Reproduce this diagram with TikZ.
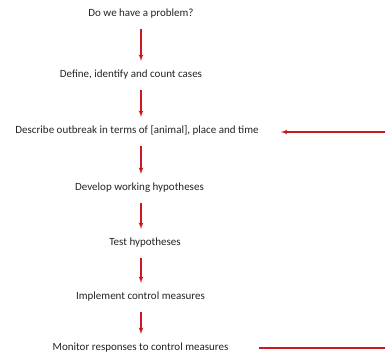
\documentclass[tikz,border=0pt]{standalone}
\usepackage{fontspec}
\setmainfont{Carlito}
\usepackage{tikz}
\usetikzlibrary{arrows}
\definecolor{flowred}{RGB}{204,24,32}
\definecolor{steptext}{RGB}{35,35,35}
\tikzstyle{stage} = [inner sep=0pt, text=steptext, font=\fontsize{11}{13}\selectfont,
    text height=7pt, text depth=2.5pt]
\tikzstyle{arrow} = [draw=flowred, line width=1.2pt, -latex', shorten <=10pt, shorten >=9pt]
\tikzstyle{loop} = [draw=flowred, line width=1.2pt]

\begin{document}
\begin{tikzpicture}[x=1pt,y=-1pt]
    \useasboundingbox (0,0) rectangle (385,358);
    \coordinate (axis) at (141,0);
    \node[stage] (problem) at (141,14) {Do we have a problem?};
    \node[stage] (cases) at (131,75) {Define, identify and count cases};
    \node[stage] (describe) at (137,131) {Describe outbreak in terms of [animal], place and time};
    \node[stage] (develop) at (139.5,188) {Develop working hypotheses};
    \node[stage] (test) at (145,243) {Test hypotheses};
    \node[stage] (implement) at (140.5,297) {Implement control measures};
    \node[stage] (monitor) at (140.5,348) {Monitor responses to control measures};
    \coordinate (backtop) at (385,132);
    \coordinate (backbot) at (385,348);
    % main flow
    \draw[arrow] (problem.south -| axis) -- (cases.north -| axis);
    \draw[arrow] (cases.south -| axis) -- (describe.north -| axis);
    \draw[arrow] (describe.south -| axis) -- (develop.north -| axis);
    \draw[arrow] (develop.south -| axis) -- (test.north -| axis);
    \draw[arrow] (test.south -| axis) -- (implement.north -| axis);
    \draw[arrow] (implement.south -| axis) -- (monitor.north -| axis);
    % feedback
    \draw[loop, -latex'] (backtop) -- ([xshift=22pt]describe.east |- backtop);
    \draw[loop] ([xshift=30pt]monitor.east) -- (backbot);
\end{tikzpicture}
\end{document}
